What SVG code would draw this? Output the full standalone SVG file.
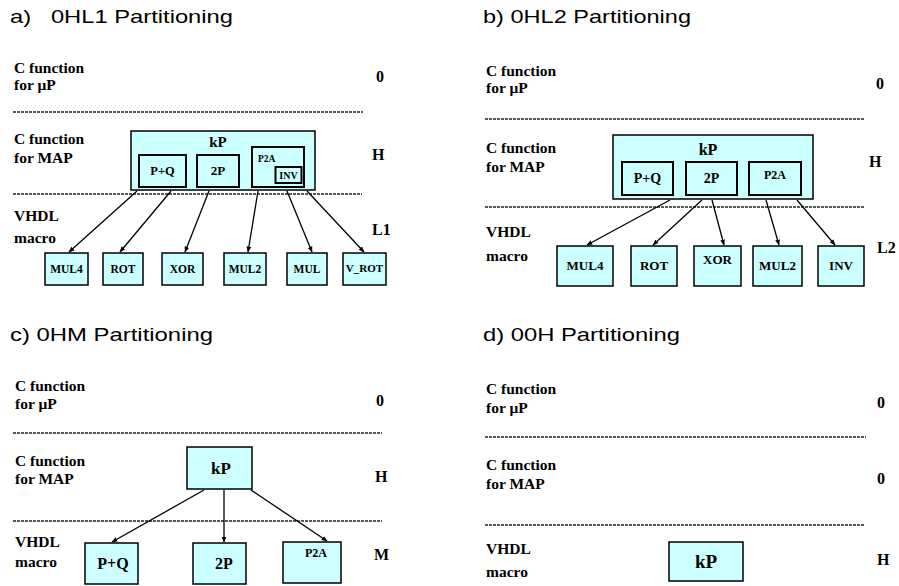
<svg xmlns="http://www.w3.org/2000/svg" width="899" height="586" viewBox="0 0 899 586">
<defs>
<style>
.title{font-family:"Liberation Sans",Arial,sans-serif;font-size:19px;fill:#000}
.lbl{font-family:"Liberation Serif","Times New Roman",serif;font-weight:bold;font-size:15.5px;fill:#000}
.lv{font-family:"Liberation Serif","Times New Roman",serif;font-weight:bold;font-size:16px;fill:#000}
.bt{font-family:"Liberation Serif","Times New Roman",serif;font-weight:bold;font-size:11.5px;fill:#000;text-anchor:middle}
.box{fill:#ccffff;stroke:#000;stroke-width:1.5}
.inner{fill:none;stroke:#000;stroke-width:2}
.dash{stroke:#222;stroke-width:1.3;stroke-dasharray:3 1;fill:none}
.arr{stroke:#000;stroke-width:1.3;fill:none;marker-end:url(#ah)}
</style>
<marker id="ah" viewBox="0 0 10 10" refX="9" refY="5" markerWidth="6" markerHeight="6" orient="auto" markerUnits="userSpaceOnUse">
<path d="M0,1 L10,5 L0,9 z" fill="#000"/>
</marker>
</defs>

<!-- Titles -->
<text class="title" x="10" y="23" xml:space="preserve" textLength="223" lengthAdjust="spacingAndGlyphs">a)   0HL1 Partitioning</text>
<text class="title" x="483" y="23" textLength="208" lengthAdjust="spacingAndGlyphs">b) 0HL2 Partitioning</text>
<text class="title" x="10" y="341" textLength="203" lengthAdjust="spacingAndGlyphs">c) 0HM Partitioning</text>
<text class="title" x="483" y="341" textLength="197" lengthAdjust="spacingAndGlyphs">d) 00H Partitioning</text>

<!-- Panel a -->
<g id="panel-a-layers">
<text class="lbl" x="14" y="73">C function</text>
<text class="lbl" x="14" y="90">for μP</text>
<text class="lv" x="376" y="82">0</text>
<line class="dash" x1="13" y1="112" x2="363" y2="112"/>
<text class="lbl" x="14" y="144">C function</text>
<text class="lbl" x="14" y="163">for MAP</text>
<text class="lv" x="372" y="160">H</text>
<line class="dash" x1="13" y1="194" x2="362" y2="194"/>
<text class="lbl" x="14" y="221">VHDL</text>
<text class="lbl" x="14" y="243">macro</text>
<text class="lv" x="372" y="235">L1</text>
</g>
<g id="a-kP">
<rect class="box" x="131" y="131" width="184" height="59"/>
<text class="bt" x="218" y="147" style="font-size:15px">kP</text>
</g>
<g id="a-PQ"><rect class="inner" x="139" y="155" width="47" height="32"/><text class="bt" x="162.5" y="175" style="font-size:12.5px">P+Q</text></g>
<g id="a-2P"><rect class="inner" x="197" y="155" width="42" height="32"/><text class="bt" x="218" y="175" style="font-size:13px">2P</text></g>
<g id="a-P2A"><rect class="inner" x="252" y="147" width="52" height="40"/><text class="bt" x="258" y="162" style="font-size:9.5px;text-anchor:start">P2A</text></g>
<g id="a-INV"><rect class="inner" x="275.5" y="167" width="26" height="16"/><text class="bt" x="288.5" y="179" style="font-size:10px">INV</text></g>
<g id="a-MUL4"><rect class="box" x="45" y="253" width="43" height="32"/><text class="bt" x="66.5" y="273">MUL4</text></g>
<g id="a-ROT"><rect class="box" x="103" y="253" width="40" height="32"/><text class="bt" x="123" y="273">ROT</text></g>
<g id="a-XOR"><rect class="box" x="162" y="253" width="41" height="32"/><text class="bt" x="182.5" y="273">XOR</text></g>
<g id="a-MUL2"><rect class="box" x="224" y="253" width="42" height="32"/><text class="bt" x="245" y="273">MUL2</text></g>
<g id="a-MUL"><rect class="box" x="287" y="253" width="40" height="32"/><text class="bt" x="307" y="273">MUL</text></g>
<g id="a-VROT"><rect class="box" x="343" y="253" width="43" height="32"/><text class="bt" x="364.5" y="272" style="font-size:11px">V_ROT</text></g>
<g id="a-connectors">
<line class="arr" x1="137" y1="191" x2="69" y2="252"/>
<line class="arr" x1="171" y1="191" x2="120" y2="252"/>
<line class="arr" x1="209" y1="191" x2="185" y2="252"/>
<line class="arr" x1="258" y1="191" x2="248" y2="252"/>
<line class="arr" x1="287" y1="191" x2="312" y2="252"/>
<line class="arr" x1="307" y1="191" x2="364" y2="252"/>
</g>

<!-- Panel b -->
<g id="panel-b-layers">
<text class="lbl" x="486" y="76">C function</text>
<text class="lbl" x="486" y="93">for μP</text>
<text class="lv" x="876" y="89">0</text>
<line class="dash" x1="485" y1="119" x2="865" y2="119"/>
<text class="lbl" x="486" y="153">C function</text>
<text class="lbl" x="486" y="172">for MAP</text>
<text class="lv" x="869" y="167">H</text>
<line class="dash" x1="485" y1="207" x2="864" y2="207"/>
<text class="lbl" x="486" y="237">VHDL</text>
<text class="lbl" x="486" y="261">macro</text>
<text class="lv" x="877" y="253">L2</text>
</g>
<g id="b-kP"><rect class="box" x="613" y="135" width="200" height="64"/><text class="bt" x="708" y="155" style="font-size:16px">kP</text></g>
<g id="b-PQ"><rect class="inner" x="622" y="162" width="51" height="33"/><text class="bt" x="647.5" y="183" style="font-size:14px">P+Q</text></g>
<g id="b-2P"><rect class="inner" x="686" y="162" width="51" height="33"/><text class="bt" x="711.5" y="183" style="font-size:14px">2P</text></g>
<g id="b-P2A"><rect class="inner" x="749" y="162" width="52" height="33"/><text class="bt" x="775" y="179" style="font-size:12px">P2A</text></g>
<g id="b-MUL4"><rect class="box" x="557" y="246" width="56" height="40"/><text class="bt" x="585" y="270" style="font-size:13px">MUL4</text></g>
<g id="b-ROT"><rect class="box" x="631" y="246" width="46" height="40"/><text class="bt" x="654" y="270" style="font-size:13px">ROT</text></g>
<g id="b-XOR"><rect class="box" x="694" y="246" width="47" height="40"/><text class="bt" x="717.5" y="264" style="font-size:13px">XOR</text></g>
<g id="b-MUL2"><rect class="box" x="753" y="246" width="49" height="40"/><text class="bt" x="777.5" y="270" style="font-size:13px">MUL2</text></g>
<g id="b-INV"><rect class="box" x="818" y="246" width="46" height="40"/><text class="bt" x="841" y="270" style="font-size:13px">INV</text></g>
<g id="b-connectors">
<line class="arr" x1="670" y1="200" x2="587" y2="245"/>
<line class="arr" x1="702" y1="200" x2="653" y2="245"/>
<line class="arr" x1="712" y1="200" x2="724" y2="245"/>
<line class="arr" x1="766" y1="200" x2="779" y2="245"/>
<line class="arr" x1="797" y1="200" x2="835" y2="245"/>
</g>

<!-- Panel c -->
<g id="panel-c-layers">
<text class="lbl" x="15" y="391">C function</text>
<text class="lbl" x="15" y="409">for μP</text>
<text class="lv" x="376" y="406">0</text>
<line class="dash" x1="13" y1="433" x2="382" y2="433"/>
<text class="lbl" x="15" y="466">C function</text>
<text class="lbl" x="15" y="484">for MAP</text>
<text class="lv" x="375" y="482">H</text>
<line class="dash" x1="13" y1="521" x2="382" y2="521"/>
<text class="lbl" x="15" y="547">VHDL</text>
<text class="lbl" x="15" y="567">macro</text>
<text class="lv" x="374" y="560">M</text>
</g>
<g id="c-kP"><rect class="box" x="187" y="447" width="65" height="42"/><text class="bt" x="221" y="474" style="font-size:17px">kP</text></g>
<g id="c-PQ"><rect class="box" x="85" y="543" width="53" height="41"/><text class="bt" x="113" y="569" style="font-size:16px">P+Q</text></g>
<g id="c-2P"><rect class="box" x="193" y="543" width="53" height="41"/><text class="bt" x="224" y="569" style="font-size:16px">2P</text></g>
<g id="c-P2A"><rect class="box" x="283" y="542" width="58" height="41"/><text class="bt" x="316" y="557" style="font-size:12px">P2A</text></g>
<g id="c-connectors">
<line class="arr" x1="204" y1="490" x2="112" y2="542"/>
<line class="arr" x1="224" y1="490" x2="224" y2="542"/>
<line class="arr" x1="251" y1="490" x2="327" y2="541"/>
</g>

<!-- Panel d -->
<g id="panel-d-layers">
<text class="lbl" x="486" y="394">C function</text>
<text class="lbl" x="486" y="413">for μP</text>
<text class="lv" x="877" y="408">0</text>
<line class="dash" x1="485" y1="437" x2="866" y2="437"/>
<text class="lbl" x="486" y="470">C function</text>
<text class="lbl" x="486" y="489">for MAP</text>
<text class="lv" x="877" y="484">0</text>
<line class="dash" x1="485" y1="525" x2="865" y2="525"/>
<text class="lbl" x="486" y="554">VHDL</text>
<text class="lbl" x="486" y="577">macro</text>
<text class="lv" x="877" y="565">H</text>
</g>
<g id="d-kP"><rect class="box" x="669" y="542" width="74" height="39"/><text class="bt" x="706" y="568" style="font-size:19px">kP</text></g>
</svg>
